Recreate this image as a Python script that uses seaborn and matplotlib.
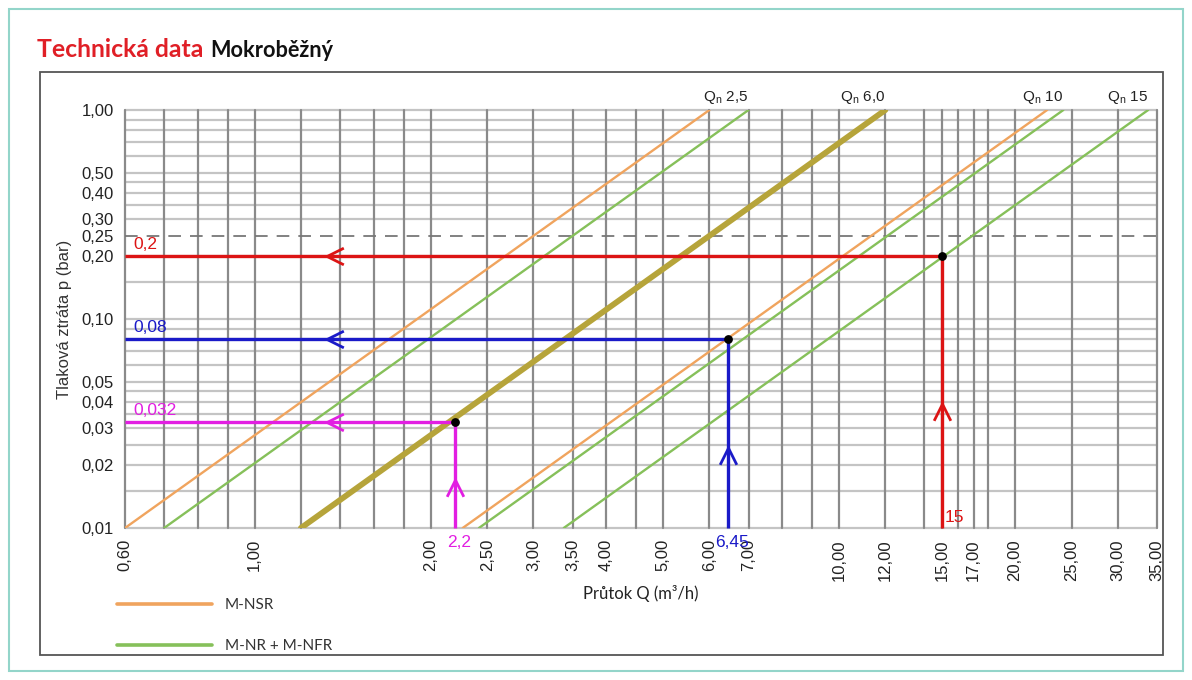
import numpy as np
import pandas as pd
import matplotlib
matplotlib.use("Agg")
import matplotlib.pyplot as plt
from matplotlib.path import Path
from matplotlib.patches import Rectangle
from matplotlib.lines import Line2D
from matplotlib.ticker import FixedLocator, FixedFormatter, NullLocator
import seaborn as sns

# ---- pressure-loss curves (flow at 0.01 bar and at 1.00 bar) ----
curve_ids = ["qn25_nsr", "qn25_nr", "qn60", "qn10_nsr", "qn10_nr", "qn15_nr"]
curve_series = ["M-NSR", "M-NR + M-NFR", "Qn 6,0", "M-NSR", "M-NR + M-NFR", "M-NR + M-NFR"]
flow_at_low = [0.60, 0.70, 1.20, 2.27, 2.42, 3.38]
flow_at_high = [6.0, 7.0, 12.0, 22.7, 24.2, 33.8]
pressure_low = 0.01
pressure_high = 1.00

# meter size labels above the curves
qn_labels = ["2,5", "6,0", "10", "15"]
qn_label_flow = [7.0, 12.0, 24.2, 33.8]

# worked readings
reading_flow = [15.0, 6.45, 2.2]
reading_pressure = [0.2, 0.08, 0.032]
reading_flow_text = ["15", "6,45", "2,2"]
reading_pressure_text = ["0,2", "0,08", "0,032"]
reading_colors = ["#dc1414", "#1a1ac8", "#e21ee2"]

# nominal pressure loss reference
reference_pressure = 0.25

# axes ticks and grid
x_ticks = [0.6, 1, 2, 2.5, 3, 3.5, 4, 5, 6, 7, 10, 12, 15, 17, 20, 25, 30, 35]
x_grid = [0.6, 0.7, 0.8, 0.9, 1, 1.2, 1.4, 1.6, 1.8, 2, 2.5, 3, 3.5, 4, 4.5, 5,
          6, 7, 8, 9, 10, 12, 14, 15, 16, 17, 18, 20, 25, 30, 35]
y_ticks = [1.0, 0.5, 0.4, 0.3, 0.25, 0.2, 0.1, 0.05, 0.04, 0.03, 0.02, 0.01]
y_grid = [1.0, 0.9, 0.8, 0.7, 0.6, 0.5, 0.45, 0.4, 0.35, 0.3, 0.2, 0.15,
          0.1, 0.09, 0.08, 0.07, 0.06, 0.05, 0.045, 0.04, 0.035, 0.03, 0.025, 0.02, 0.015, 0.01]

legend_labels = ["M-NSR", "M-NR + M-NFR"]


def comma(v):
    return f"{v:.2f}".replace(".", ",")


sns.set_style("white")
plt.rcParams["font.family"] = ["Liberation Sans", "DejaVu Sans"]
plt.rcParams["mathtext.fontset"] = "custom"
plt.rcParams["mathtext.rm"] = "Liberation Sans"

W, H = 1192, 680
fig = plt.figure(figsize=(W / 100, H / 100), dpi=100)
fig.patch.set_facecolor("white")


def fx(px):
    return px / W


def fy(py):
    return 1 - py / H


ax = fig.add_axes([fx(125), fy(528), fx(1157) - fx(125), fy(110) - fy(528)])
ax.set_xscale("log")
ax.set_yscale("log")
ax.set_xlim(0.6, 35)
ax.set_ylim(0.01, 1.0)
for s in ax.spines.values():
    s.set_visible(False)

# grid
for y in y_grid:
    ax.axhline(y, color="#c4c4c4", lw=1.6, zorder=1, clip_on=False)
for x in x_grid:
    ax.axvline(x, color="#8a8a8a", lw=1.6, zorder=1.5, clip_on=False)
ax.axhline(reference_pressure, color="#777777", lw=1.3, ls=(0, (7, 5)), zorder=2)

# curves
rows = []
for cid, ser, q0, q1 in zip(curve_ids, curve_series, flow_at_low, flow_at_high):
    rows.append({"curve": cid, "series": ser, "flow": q0, "pressure": pressure_low})
    rows.append({"curve": cid, "series": ser, "flow": q1, "pressure": pressure_high})
df = pd.DataFrame(rows)
palette = {"M-NSR": "#f0a45e", "M-NR + M-NFR": "#86c05a", "Qn 6,0": "#b6a43a"}
sizes = {"M-NSR": 1.7, "M-NR + M-NFR": 1.7, "Qn 6,0": 4.2}
sns.lineplot(data=df, x="flow", y="pressure", units="curve", hue="series", size="series",
             palette=palette, sizes=sizes, estimator=None, sort=False, legend=False,
             ax=ax, zorder=3)

# readings
left_chev = Path([(1, 1), (-1, 0), (1, -1)], [Path.MOVETO, Path.LINETO, Path.LINETO])
up_chev = Path([(-1, -1), (0, 1), (1, -1)], [Path.MOVETO, Path.LINETO, Path.LINETO])
h_arrow_flow = 1.37
v_arrow_pressure = [0.036, 0.022, 0.0155]
for q, p, c, vp in zip(reading_flow, reading_pressure, reading_colors, v_arrow_pressure):
    ax.plot([0.6, q], [p, p], color=c, lw=2.4, zorder=5, solid_capstyle="butt")
    ax.plot([q, q], [0.01, p], color=c, lw=2.4, zorder=5, solid_capstyle="butt", clip_on=False)
    ax.plot([h_arrow_flow], [p], marker=left_chev, ms=12, mfc="none", mec=c, mew=2.0, zorder=6)
    ax.plot([q], [vp], marker=up_chev, ms=12, mfc="none", mec=c, mew=2.0, zorder=6)
    ax.scatter([q], [p], s=28, color="black", zorder=7)

for p, t, c in zip(reading_pressure, reading_pressure_text, reading_colors):
    ax.annotate(t, (0.6, p), xytext=(6, 3), textcoords="offset points",
                color=c, fontsize=12.5, ha="left", va="bottom", zorder=8)

# flow readings: 15 sits inside, the others below the axis
ax.annotate(reading_flow_text[0], (reading_flow[0], 0.01), xytext=(2, 2), textcoords="offset points",
            color=reading_colors[0], fontsize=12.5, ha="left", va="bottom", zorder=8)
for q, t, c in zip(reading_flow[1:], reading_flow_text[1:], reading_colors[1:]):
    ax.annotate(t, (q, 0.01), xytext=(3, -5), textcoords="offset points",
                color=c, fontsize=12.5, ha="center", va="top", zorder=8, annotation_clip=False)

# Qn labels
for lab, q in zip(qn_labels, qn_label_flow):
    ax.annotate(r"Q$_{\mathrm{n}}$ " + lab, (q, 1.0), xytext=(0, 3), textcoords="offset points",
                ha="right", va="bottom", fontsize=11, color="#222222", annotation_clip=False)

# ticks
ax.xaxis.set_major_locator(FixedLocator(x_ticks))
ax.xaxis.set_major_formatter(FixedFormatter([comma(v) for v in x_ticks]))
ax.xaxis.set_minor_locator(NullLocator())
ax.yaxis.set_major_locator(FixedLocator(y_ticks))
ax.yaxis.set_major_formatter(FixedFormatter([comma(v) for v in y_ticks]))
ax.yaxis.set_minor_locator(NullLocator())
ax.tick_params(axis="x", length=0, pad=8, labelsize=12, labelcolor="#222222", labelrotation=90)
ax.tick_params(axis="y", length=0, pad=8, labelsize=12, labelcolor="#222222")

ax.set_xlabel("Průtok Q (m³/h)", fontsize=12, color="#222222", labelpad=3, family=["Lato", "DejaVu Sans"])
ax.set_ylabel("Tlaková ztráta p (bar)", fontsize=12, color="#333333", labelpad=7)

# legend
handles = [Line2D([], [], color=palette["M-NSR"], lw=2.6),
           Line2D([], [], color=palette["M-NR + M-NFR"], lw=2.6)]
leg = fig.legend(handles, legend_labels, loc="upper left", bbox_to_anchor=(fx(117), fy(598)),
                 frameon=False, borderpad=0, borderaxespad=0, handlelength=6.2, handletextpad=0.85,
                 labelspacing=1.8, prop={"family": ["Lato", "DejaVu Sans"], "size": 11})
for t in leg.get_texts():
    t.set_color("#333333")

# title
fig.text(fx(37), fy(57), "Technická data", color="#e01f26", fontsize=17.8, fontweight="bold",
         family=["Lato", "DejaVu Sans"], ha="left", va="baseline")
fig.text(fx(210), fy(57), "Mokroběžný", color="#111111", fontsize=15.6, fontweight="bold",
         family=["Lato", "DejaVu Sans"], ha="left", va="baseline")

# frames
fig.add_artist(Rectangle((fx(40), fy(655)), fx(1163) - fx(40), fy(72) - fy(655),
                         transform=fig.transFigure, fill=False, ec="#555555", lw=1.3))
fig.add_artist(Rectangle((fx(9), fy(671)), fx(1183) - fx(9), fy(9) - fy(671),
                         transform=fig.transFigure, fill=False, ec="#93d5ca", lw=1.5))

fig.savefig("out.png", dpi=100)
